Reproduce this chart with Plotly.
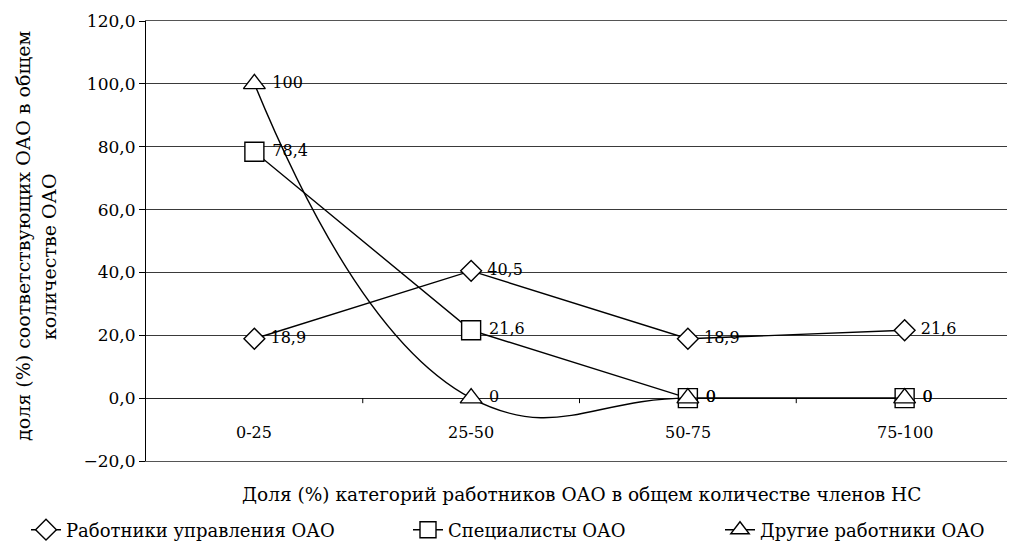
import plotly.graph_objects as go

categories = ["0-25", "25-50", "50-75", "75-100"]
mgmt = [18.9, 40.5, 18.9, 21.6]
specialists = [78.4, 21.6, 0, 0]
others = [100, 0, 0, 0]
y_ticks = [-20, 0, 20, 40, 60, 80, 100, 120]

series = [
    ("Работники управления ОАО", mgmt, "diamond", 16, "linear", "legend"),
    ("Специалисты ОАО", specialists, "square", 19, "linear", "legend2"),
    ("Другие работники ОАО", others, "triangle-up", 19, "spline", "legend3"),
]

def lab(v):
    return f"{v:g}".replace(".", ",")

FONT = "DejaVu Serif"
W, H = 1007, 540          # page body has an 8px margin
OFF = 8
L, R, T, B = 146 - OFF, 2, 21 - OFF, H - (461 - OFF)
PW, PH = W - L - R, H - T - B

def px(xp):
    return (xp - OFF - L) / PW

def py(yp):
    return (H - B - (yp - OFF)) / PH

fig = go.Figure()
for name, vals, sym, size, shape, leg in series:
    fig.add_trace(go.Scatter(
        x=list(range(len(categories))), y=vals, name=name, legend=leg,
        mode="lines+markers+text",
        text=[" " + lab(v) for v in vals], textposition="middle right",
        textfont=dict(family=FONT, size=16, color="black"),
        line=dict(color="black", width=1.4, shape=shape, smoothing=1.3),
        marker=dict(symbol=sym, size=size, color="white",
                    line=dict(color="black", width=1.4)),
    ))

leg_common = dict(orientation="h", xref="container", yref="container",
                  xanchor="left", yanchor="middle", y=(H - (530 - OFF)) / H,
                  font=dict(family=FONT, size=18), itemwidth=30,
                  bgcolor="rgba(0,0,0,0)")
fig.update_layout(
    width=W, height=H,
    margin=dict(l=L, r=R, t=T, b=B, autoexpand=False),
    paper_bgcolor="white", plot_bgcolor="white",
    font=dict(family=FONT, size=15, color="black"),
    separators=", ",
    showlegend=True,
    legend=dict(x=18 / W, **leg_common),
    legend2=dict(x=400 / W, **leg_common),
    legend3=dict(x=712 / W, **leg_common),
)
fig.update_xaxes(range=[-0.5, len(categories) - 0.5], showticklabels=False,
                 showgrid=False, zeroline=False, showline=True, linecolor="#555",
                 mirror=True, linewidth=1, automargin=False)
fig.update_yaxes(range=[-20, 120], tickvals=y_ticks, tickformat=".1f",
                 showgrid=True, gridcolor="#3a3a3a", gridwidth=1, zeroline=True,
                 zerolinecolor="#222", zerolinewidth=1.2,
                 showline=True, linecolor="black", linewidth=1.2,
                 ticks="outside", ticklen=6, tickcolor="black",
                 tickfont=dict(family=FONT, size=17), automargin=False)

for i, c in enumerate(categories):
    fig.add_annotation(x=i, y=0, xref="x", yref="y", text=c, showarrow=False,
                       yshift=-34, font=dict(family=FONT, size=16))
for i in range(len(categories) - 1):
    fig.add_shape(type="line", xref="x", yref="y", x0=i + 0.5, x1=i + 0.5,
                  y0=0, y1=-1.6, line=dict(color="black", width=1))

fig.add_annotation(xref="paper", yref="paper", x=px(581), y=py(494),
                   text="Доля (%) категорий работников ОАО в общем количестве членов НС",
                   showarrow=False, font=dict(family=FONT, size=18.5), yanchor="middle")
fig.add_annotation(xref="paper", yref="paper", x=px(23), y=py(443),
                   text="доля (%) соответствующих ОАО в общем",
                   textangle=-90, showarrow=False, font=dict(family=FONT, size=19),
                   xanchor="center", yanchor="bottom")
fig.add_annotation(xref="paper", yref="paper", x=px(49), y=py(257),
                   text="количестве ОАО",
                   textangle=-90, showarrow=False, font=dict(family=FONT, size=19),
                   xanchor="center", yanchor="middle")

fig.write_html("out.html")
